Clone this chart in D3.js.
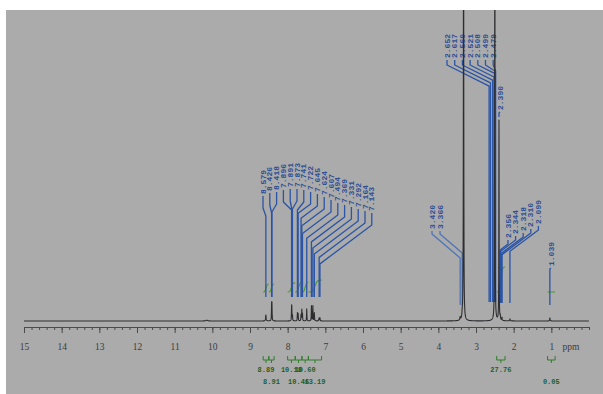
<!DOCTYPE html>
<html><head><meta charset="utf-8">
<script src="https://cdn.jsdelivr.net/npm/d3@7"></script>
<style>
html,body{margin:0;padding:0;background:#fff;}
svg{display:block;}
</style></head><body>
<svg id="chart" width="603" height="394"></svg>
<script>
// ---- spectrum peaks: shift (ppm), height above baseline, half width (ppm) ----
const peakShift  = [10.15, 8.579, 8.426, 8.418, 7.896, 7.891, 7.873, 7.741, 7.722, 7.645, 7.624, 7.607, 7.494, 7.369, 7.331, 7.292, 7.164, 7.143, 3.420, 3.366, 3.330, 2.500, 2.390, 2.356, 2.310, 2.099, 1.039];
const peakHeight = [0.8,   6,     15,    15,    10,    10,    5,     8,     7,     6,     11,    7,     12,    15,    15,    8,     3,     3,     3,     4,     500,   500,   200,   4,     3,     2,     3];
const peakWidth  = [0.03,  0.008, 0.005, 0.005, 0.005, 0.005, 0.005, 0.005, 0.005, 0.005, 0.005, 0.005, 0.005, 0.005, 0.005, 0.005, 0.006, 0.006, 0.008, 0.008, 0.005, 0.0045, 0.004, 0.006, 0.006, 0.008, 0.008];

// ---- peak labels, one list per stack ----
const aromaticLabels = ["8.579","8.426","8.418","7.896","7.891","7.873","7.741","7.722","7.645","7.624","7.607","7.494","7.369","7.331","7.292","7.164","7.143"];
const solventLabels  = ["2.652","2.617","2.560","2.521","2.508","2.499","2.479"];
const methylLabel    = ["2.390"];
const waterLabels    = ["3.420","3.366"];
const upfieldLabels  = ["2.356","2.344","2.318","2.310","2.099"];
const highLabel      = ["1.039"];

// ---- integrals ----
const integralFrom  = [8.65, 8.50, 8.00, 7.80, 7.62, 7.45, 2.45, 1.10];
const integralTo    = [8.50, 8.36, 7.80, 7.62, 7.45, 7.10, 2.23, 0.90];
const integralValue = ["8.89","8.91","10.18","10.46","10.60","13.19","27.76","0.05"];

// ---- axis ----
const axisLabels = [15,14,13,12,11,10,9,8,7,6,5,4,3,2,1];

const W = 603, H = 394;
const svg = d3.select("#chart");
svg.append("rect").attr("width", W).attr("height", H).attr("fill", "#fff");
svg.append("rect").attr("x", 6).attr("y", 10).attr("width", W - 6).attr("height", H - 10).attr("fill", "#ababab");

const x = d3.scaleLinear().domain([15, 0]).range([24, 589]);
const y = d3.scaleLinear().domain([0, 311]).range([321, 10]);

svg.append("clipPath").attr("id", "plotClip")
  .append("rect").attr("x", 6).attr("y", 10).attr("width", W - 6).attr("height", 330);

const intensity = p => d3.sum(peakShift, (c, i) =>
  peakHeight[i] * peakWidth[i] * peakWidth[i] / ((p - c) * (p - c) + peakWidth[i] * peakWidth[i]));

// sampled shifts, including every peak centre so maxima are hit exactly
const grid = d3.range(15, 0, -0.002).concat(peakShift).sort((a, b) => b - a);

// ---- integral curves (green) ----
const integG = svg.append("g").attr("clip-path", "url(#plotClip)");
integralValue.forEach((v, i) => {
  const x1 = x(integralFrom[i]), x2 = x(integralTo[i]);
  const rise = Math.min(+v * 0.9, 26);
  integG.append("path")
    .attr("d", d3.line().curve(d3.curveBasis)([[x1, 292], [(x1 + x2) / 2 - 1, 292], [(x1 + x2) / 2 + 1, 292 - rise], [x2, 292 - rise]]))
    .attr("fill", "none").attr("stroke", "#4f9a2a").attr("stroke-width", 1.1);
});

// ---- leader lines and labels ----
const leaderG = svg.append("g");
const labelG = svg.append("g");

function stack(values, layout) {
  values.forEach((v, i) => {
    const lx = layout.x0 + i * layout.dx;
    const lb = layout.bottom(i);
    const px = x(+v);
    const yA = lb + layout.drop;
    const yB = yA + Math.max(layout.minRun, Math.abs(lx - px) * layout.slope);
    const yC = layout.end(v, yB);
    leaderG.append("path")
      .attr("d", d3.line()([[lx, lb + 2], [lx, yA], [px, yB], [px, yC]]))
      .attr("fill", "none")
      .attr("stroke", layout.color || "#2a54a6")
      .attr("stroke-width", 1.3)
      .attr("stroke-linejoin", "round");
    labelG.append("text")
      .attr("transform", `translate(${lx},${lb}) rotate(-90)`)
      .attr("dy", "0.33em")
      .attr("font-family", "'Liberation Mono', 'DejaVu Sans Mono', monospace")
      .attr("font-size", 8)
      .attr("font-weight", "bold")
      .attr("fill", "#2c4f96")
      .text(v);
  });
}

const aromaticBottoms = [194,191,190,188,187,187,188,190,192,195,198,201,203,205,207,209,211];
stack(aromaticLabels, {x0: 263, dx: 6.8, bottom: i => aromaticBottoms[i], drop: 14, slope: 0.75, minRun: 8, end: () => 297});
stack(solventLabels, {x0: 447, dx: 7.7, bottom: () => 58, drop: 7, slope: 0.5, minRun: 6, end: () => 302});
stack(methylLabel, {x0: 500, dx: 0, bottom: () => 110, drop: 2, slope: 0.5, minRun: 1, end: v => y(intensity(+v)) - 3});
stack(waterLabels, {x0: 432, dx: 8, bottom: () => 229, drop: 5, slope: 0.85, minRun: 6, end: () => 305, color: "#4d74b8"});
const upfieldBottoms = [238, 234, 231, 227, 224];
stack(upfieldLabels, {x0: 508, dx: 7.6, bottom: i => upfieldBottoms[i], drop: 6, slope: 0.75, minRun: 6, end: () => 303});
stack(highLabel, {x0: 551, dx: 0, bottom: () => 266, drop: 2, slope: 0.5, minRun: 1, end: () => 305});

// ---- spectrum trace ----
svg.append("path")
  .datum(grid)
  .attr("clip-path", "url(#plotClip)")
  .attr("d", d3.line().x(p => x(p)).y(p => y(intensity(p))))
  .attr("fill", "none")
  .attr("stroke", "#2e2e30")
  .attr("stroke-width", 1.1)
  .attr("stroke-linejoin", "round");

// ---- ppm axis ----
const axisY = 327;
const minorAxis = d3.axisBottom(x)
  .tickValues(d3.range(0, 15.001, 0.2))
  .tickSizeInner(3).tickSizeOuter(0).tickFormat("");
const majorAxis = d3.axisBottom(x)
  .tickValues(axisLabels)
  .tickSizeInner(6).tickSizeOuter(0).tickPadding(10)
  .tickFormat(d3.format("d"));
[minorAxis, majorAxis].forEach(ax => {
  const g = svg.append("g").attr("transform", `translate(0,${axisY})`).call(ax);
  g.select(".domain").attr("stroke", "#4a4a4a").attr("stroke-width", 1.1);
  g.selectAll(".tick line").attr("stroke", "#4a4a4a").attr("stroke-width", 1);
  g.selectAll(".tick text")
    .attr("font-family", "'Liberation Serif', serif")
    .attr("font-size", 9.5)
    .attr("fill", "#3c3c3c");
});
svg.append("text")
  .attr("x", 571).attr("y", axisY + 23)
  .attr("text-anchor", "middle")
  .attr("font-family", "'Liberation Serif', serif")
  .attr("font-size", 9.5)
  .attr("fill", "#3c3c3c")
  .text("ppm");

// ---- integral brackets and values ----
const brG = svg.append("g");
integralValue.forEach((v, i) => {
  const x1 = x(integralFrom[i]), x2 = x(integralTo[i]), xm = (x1 + x2) / 2;
  brG.append("path")
    .attr("d", `M${x1},356L${x1},360L${x2},360L${x2},356M${xm},360L${xm},363`)
    .attr("fill", "none").attr("stroke", "#2f7d2a").attr("stroke-width", 1);
  brG.append("text")
    .attr("x", xm).attr("y", i % 2 === 0 ? 372 : 384)
    .attr("text-anchor", "middle")
    .attr("font-family", "'Liberation Mono', 'DejaVu Sans Mono', monospace")
    .attr("font-size", 7)
    .attr("font-weight", "bold")
    .attr("fill", "#1f5e1f")
    .text(v);
});
</script>
</body></html>
